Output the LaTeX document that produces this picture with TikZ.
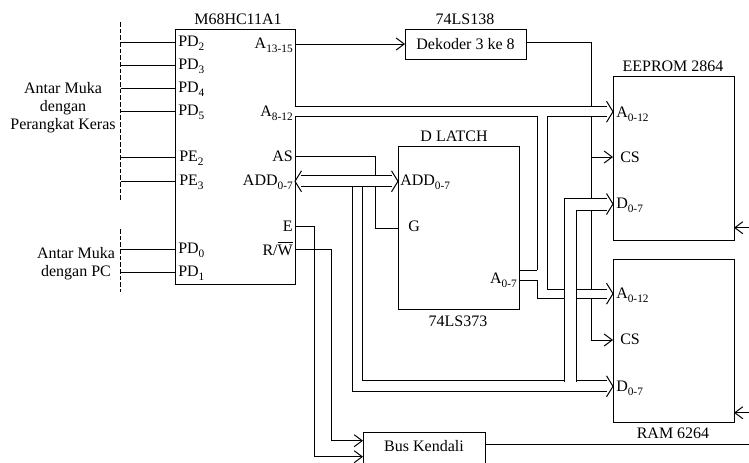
\documentclass[tikz,border=0pt]{standalone}
\usepackage{fontspec}
\setmainfont{Liberation Serif}
\usetikzlibrary{arrows.meta}
\newcommand{\pinsub}[1]{\raisebox{-3pt}{\fontsize{8.5}{8.5}\selectfont #1}}

\begin{document}
\begin{tikzpicture}[x=0.75pt,y=-0.75pt,font=\fontsize{12}{13.5}\selectfont,
    chip/.style={draw,line width=0.75pt,minimum width=90.75pt,inner sep=0pt,
                 outer sep=0pt,anchor=north west},
    pinl/.style={inner sep=0pt,anchor=base west},
    pinr/.style={inner sep=0pt,anchor=base east},
    caption/.style={inner sep=0pt,anchor=base},
    line/.style={line width=0.75pt},
    sig/.style={line,-{Straight Barb[length=6pt,width=9pt]}},
    bus/.style={line,double,double distance=#1},
    bus/.default=6.75pt,
    busin/.style={shorten >=4.5pt},
    bushead/.pic={\draw[line] (-6.5,-10.5) -- (0,0) -- (-6.5,10.5);}]
  \useasboundingbox (0,0) rectangle (749,462);

  \node[chip,minimum width=90pt,minimum height=191.25pt] (mcu) at (175,29) {};
  \node[chip,minimum height=22.5pt] (dek) at (405,29) {};
  \node[inner sep=0pt] (dektext) at (dek.center) {Dekoder 3 ke 8};
  \node[chip,minimum height=122.25pt] (latch) at (398,146) {};
  \node[chip,minimum height=123pt] (eeprom) at (613,76) {};
  \node[chip,minimum height=122.25pt] (ram) at (613,259) {};
  \node[draw,line width=0.75pt,inner sep=0pt,outer sep=0pt,anchor=base,
        minimum width=91.5pt,text height=14.25pt,text depth=20pt] (kendali) at (424,451.7) {Bus Kendali};

  \node[caption] (mcutitle) at (238,24.5) {M68HC11A1};
  \node[caption] (dektitle) at (465,24.5) {74LS138};
  \node[caption] (lattitle) at (454,141) {D LATCH};
  \node[caption] (latname) at (458,326) {74LS373};
  \node[caption] (eetitle) at (673,71) {EEPROM 2864};
  \node[caption] (ramtitle) at (673,438) {RAM 6264};

  \node[align=center,inner sep=0pt] (hw) at (63,108) {Antar Muka\\dengan\\Perangkat Keras};
  \node[align=center,inner sep=0pt] (pc) at (76,264) {Antar Muka\\dengan PC};

  \coordinate (dashaa) at (120.5,22);
  \coordinate (dashab) at (120.5,200);
  \coordinate (dashba) at (120.5,229);
  \coordinate (dashbb) at (120.5,292);
  \draw[dashed,line width=0.5pt,dash pattern=on 3.5pt off 1.5pt] (dashaa) -- (dashab);
  \draw[dashed,line width=0.5pt,dash pattern=on 3.5pt off 1.5pt] (dashba) -- (dashbb);

  \foreach \pin/\py/\px/\ptext in {pda/42/178/PD\pinsub{2},pdb/65/178/PD\pinsub{3},
      pdc/88/178/PD\pinsub{4},pdd/111/178/PD\pinsub{5},
      pea/157/179/PE\pinsub{2},peb/181/179/PE\pinsub{3},
      pde/249/178/PD\pinsub{0},pdf/272/178/PD\pinsub{1}} {
    \coordinate (\pin) at (120.5,\py);
    \draw[line] (\pin) -- (mcu.west |- \pin);
    \node[pinl] (\pin text) at (\px,\py+4.5) {\ptext};
  }

  \node[pinr] (athree) at (293,48) {A\pinsub{13-15}};
  \node[pinr] (aeight) at (293,116) {A\pinsub{8-12}};
  \node[pinr] (astext) at (293,161.7) {AS};
  \node[pinr] (addtext) at (293,185) {ADD\pinsub{0-7}};
  \node[pinr] (etext) at (293,231.5) {E};
  \node[pinr] (rwtext) at (293,255) {R/$\overline{\mbox{W}}$};
  \node[pinl] (latadd) at (400,185) {ADD\pinsub{0-7}};
  \node[pinl] (latg) at (408,231) {G};
  \node[pinr] (latout) at (517,283) {A\pinsub{0-7}};
  \node[pinl] (eea) at (616,117) {A\pinsub{0-12}};
  \node[pinl] (eecs) at (620,162) {CS};
  \node[pinl] (eed) at (616,208) {D\pinsub{0-7}};
  \node[pinl] (rama) at (616,298) {A\pinsub{0-12}};
  \node[pinl] (ramcs) at (620,344) {CS};
  \node[pinl] (ramd) at (616,391.5) {D\pinsub{0-7}};

  \draw[sig] (mcu.east |- 0,44) -- (dek.west |- 0,44);
  \coordinate (csdrop) at (591,340);
  \coordinate (cstap) at (591,157);
  \draw[sig] (dek.east |- 0,42) -| (csdrop) -- (ram.west |- csdrop);
  \draw[sig] (cstap) -- (eeprom.west |- cstap);

  \coordinate (astop) at (375,228);
  \draw[line] (mcu.east |- 0,156.7) -| (astop) -- (latch.west |- astop);

  \coordinate (abus) at (400,111.7);
  \draw[bus,busin] (mcu.east |- abus) -- (eeprom.west |- abus);
  \pic at (eeprom.west |- abus) {bushead};

  \coordinate (branchtop) at (542,116);
  \coordinate (branchend) at (542,270);
  \draw[bus] (branchtop) -- (branchend);
  \coordinate (ramatop) at (547,289.5);
  \coordinate (ramabus) at (547,293.7);
  \draw[line] (latch.east |- branchend) -- (537,270);
  \draw[line] (547,270) -- (ramatop);
  \draw[line] (latch.east |- 0,280) -| (537,298.4) -- (547,298.4);
  \draw[bus=6.3pt,busin] (ramabus) -- (ram.west |- ramabus);
  \pic at (ram.west |- ramabus) {bushead};

  \coordinate (addbus) at (350,181.3);
  \coordinate (ramdbus) at (357.5,386.3);
  \draw[bus=7.3pt,busin] (357.5,186) -- (ramdbus) -- (ram.west |- ramdbus);
  \pic at (ram.west |- ramdbus) {bushead};
  \draw[bus=7.3pt,shorten <=4.5pt,shorten >=4.5pt] (mcu.east |- addbus) -- (latch.west |- addbus);
  \pic at (latch.west |- addbus) {bushead};
  \pic[xscale=-1] at (mcu.east |- addbus) {bushead};

  \coordinate (eedbus) at (570,204);
  \draw[bus=8.25pt,busin] (570,381.6) -- (eedbus) -- (eeprom.west |- eedbus);
  \pic at (eeprom.west |- eedbus) {bushead};

  \coordinate (estop) at (314,226);
  \coordinate (rwstop) at (331,249);
  \draw[sig] (mcu.east |- estop) -- (estop) |- (kendali.west |- 0,456.7);
  \draw[sig] (mcu.east |- rwstop) -- (rwstop) |- (kendali.west |- 0,440.7);

  \coordinate (rimee) at (749,227.7);
  \coordinate (rimram) at (749,412.7);
  \coordinate (rimbus) at (749,444.3);
  \draw[sig] (rimee) -- (eeprom.east |- rimee);
  \draw[sig] (rimram) -- (ram.east |- rimram);
  \draw[line] (kendali.east |- rimbus) -- (rimbus);
\end{tikzpicture}
\end{document}
